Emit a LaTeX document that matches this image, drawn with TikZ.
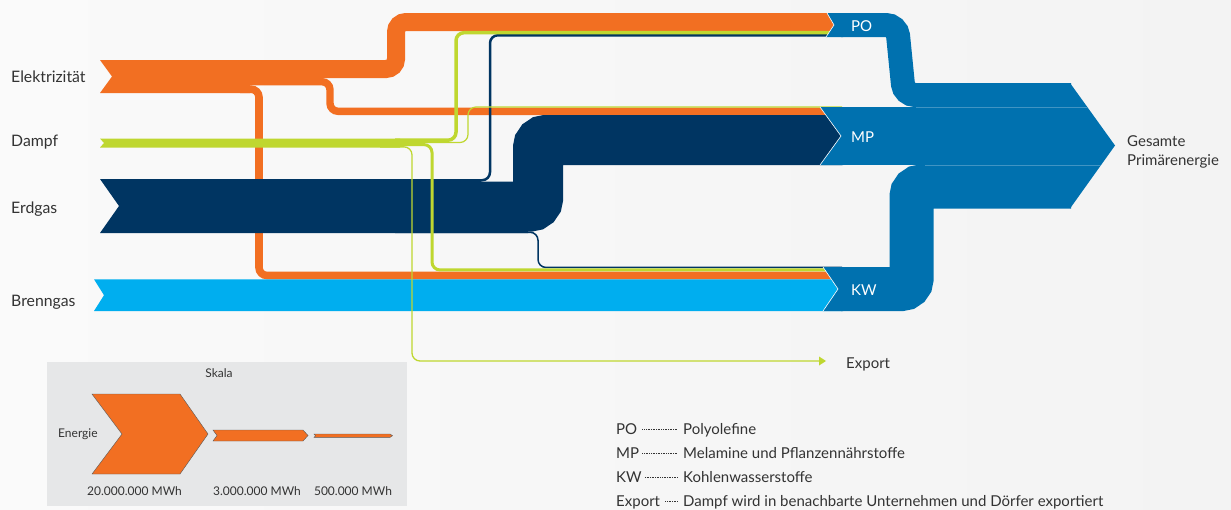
\documentclass[tikz,border=0pt]{standalone}
\usepackage{fontspec}
\setmainfont{Lato}
\usepackage{tikz}
\usetikzlibrary{positioning}
\definecolor{orng}{HTML}{F26F22}
\definecolor{lime}{HTML}{BFD730}
\definecolor{navy}{HTML}{003562}
\definecolor{skyb}{HTML}{00AEEF}
\definecolor{blu}{HTML}{0071AF}
\definecolor{ink}{HTML}{333333}
\definecolor{pagebgl}{HTML}{FAFAFA}
\definecolor{pagebgr}{HTML}{F3F3F3}
\definecolor{legbg}{HTML}{E6E7E8}
\tikzset{
  band/.style={line width=#1,rounded corners=8pt},
  lbl/.style={anchor=base west,inner sep=0pt,text=ink,
              font=\fontsize{15.8}{18}\selectfont},
  tag/.style={anchor=base west,inner sep=0pt,text=white,
              font=\fontsize{15}{18}\selectfont},
  note/.style={anchor=base west,inner sep=0pt,text=ink,
               font=\fontsize{15}{17}\selectfont},
  small/.style={anchor=base,inner sep=0pt,text=ink,
                font=\fontsize{12}{14}\selectfont},
  leader/.style={ink,line width=0.5pt,dash pattern=on 1pt off 0.7pt},
  notch/.style={white,line width=0.6pt},
  scalearrow/.style={fill=orng,draw=black!65,line width=0.4pt},
}

\begin{document}
\begin{tikzpicture}[x=1pt,y=-1pt]
  \shade[left color=pagebgl,right color=pagebgr](0,0)rectangle(1231,509);
  \useasboundingbox(0,0)rectangle(1231,509);
  % Elektrizitaet
  \fill[orng](100,60)--(250,60)--(250,93)--(100,93)--(112,76.5)--cycle;
  \draw[band=18pt,orng,rounded corners=10pt]
    (240,69)--(396,69)--(396,22)--(842,22);
  \draw[band=7.4pt,orng](240,81.7)--(330,81.7)--(330,111.3)--(842,111.3);
  \draw[band=7.6pt,orng](240,89.2)--(259,89.2)--(259,275.5)--(842,275.5);
  % Brenngas
  \fill[skyb](94,279.3)--(842,279.3)--(842,311)--(94,311)--(104,295.2)--cycle;
  % Erdgas
  \fill[navy](100,179)--(481,179)--(481,200)--(528,200)--(528,233)--(100,233)
    --(119,206)--cycle;
  \draw[band=2.5pt,navy](395,180.25)--(490,180.25)--(490,35.25)--(842,35.25);
  \draw[band=50pt,navy](395,206.5)--(538,206.5)--(538,140)--(842,140);
  \draw[band=1.5pt,navy](395,232.25)--(538,232.25)--(538,267.45)--(842,267.45);
  % Dampf
  \fill[lime](100,138.5)--(400,138.5)--(400,147.5)--(100,147.5)--(104,143)--cycle;
  \draw[band=3.5pt,lime](395,140.2)--(456,140.2)--(456,32.7)--(842,32.7);
  \draw[band=1.2pt,lime](395,142.5)--(468,142.5)--(468,107)--(842,107);
  \draw[band=3pt,lime](395,144.6)--(432,144.6)--(432,269.95)--(842,269.95);
  \draw[band=1.3pt,lime](380,146.85)--(412,146.85)--(412,361)--(819,361);
  \coordinate (exptip) at (826,361);
  \fill[lime](819,356.5)--(exptip)--(819,365.5)--cycle;
  % targets
  \draw[band=24pt,blu,rounded corners=11pt]
    (841,25)--(897,25)--(904,95)--(1071,95);
  \draw[band=58pt,blu](841,136)--(1071,136);
  \draw[band=44pt,blu,rounded corners=10pt]
    (841,289)--(911.5,289)--(911.5,186.5)--(1071,186.5);
  \fill[blu](1070,83)--(1115,145.5)--(1070,208.5)--cycle;
  \fill[blu](827,13)--(843,13)--(843,37)--(826,37)--(834,25)--cycle;
  \fill[blu](820,107)--(843,107)--(843,165)--(820,165)--(841,136)--cycle;
  \fill[blu](823,267)--(843,267)--(843,311)--(823,311)--(838,289)--cycle;
  \draw[notch](827,13)--(834,25)--(826,37);
  \draw[notch](820,107)--(841,136)--(820,165);
  \draw[notch](823,267)--(838,289)--(823,311);
  \draw[blu!75!white,line width=0.5pt](916,107)--(1087.6,107);
  \draw[blu!75!white,line width=0.5pt](925,165)--(1100.8,165);
  % labels
  \node[lbl](elek)at(11,82){Elektrizität};
  \node[lbl](dampf)at(11,146){Dampf};
  \node[lbl](erdgas)at(11,213){Erdgas};
  \node[lbl](brenngas)at(11,306){Brenngas};
  \node[tag](po)at(851,31){PO};
  \node[tag](mp)at(851,142){MP};
  \node[tag](kw)at(851,295){KW};
  \node[note](gesamt)at(1127,146.5){Gesamte};
  \node[note](primaer)at(1127,165.5){Primärenergie};
  \node[note](export)at(846,368){Export};
  % Skala
  \fill[legbg](47,362)rectangle(407,506);
  \node[small](skala)at(219,377){Skala};
  \filldraw[scalearrow](92,394)--(180,394)--(208,434)--(180,474)--(92,474)
    --(122,434)--cycle;
  \filldraw[scalearrow](213,430)--(303,430)--(308,435.5)--(303,441)--(213,441)
    --(217,435.5)--cycle;
  \filldraw[scalearrow](314,434)--(390,434)--(392.5,435.7)--(390,437.4)
    --(314,437.4)--(315.5,435.7)--cycle;
  \node[small,anchor=base west](energie)at(58,437){Energie};
  \node[small](s1)at(134.5,495){20.000.000 MWh};
  \node[small](s2)at(257,495){3.000.000 MWh};
  \node[small](s3)at(353,495){500.000 MWh};
  % Abkuerzungen
  \node[note](kpo)at(616,434){PO};
  \node[note](vpo)at(683,434){Polyolefine};
  \node[note](kmp)at(616,458){MP};
  \node[note](vmp)at(683,458){Melamine und Pflanzennährstoffe};
  \node[note](kkw)at(616,482){KW};
  \node[note](vkw)at(683,482){Kohlenwasserstoffe};
  \node[note](kex)at(616,506){Export};
  \node[note](vex)at(683,506){Dampf wird in benachbarte Unternehmen und Dörfer exportiert};
  \draw[leader]([xshift=5pt,yshift=4.7pt]kpo.base east)--([xshift=-5pt,yshift=4.7pt]vpo.base west);
  \draw[leader]([xshift=3pt,yshift=4.7pt]kmp.base east)--([xshift=-5pt,yshift=4.7pt]vmp.base west);
  \draw[leader]([xshift=3pt,yshift=4.7pt]kkw.base east)--([xshift=-5pt,yshift=4.7pt]vkw.base west);
  \draw[leader]([xshift=5pt,yshift=4.7pt]kex.base east)--([xshift=-5pt,yshift=4.7pt]vex.base west);
\end{tikzpicture}
\end{document}
